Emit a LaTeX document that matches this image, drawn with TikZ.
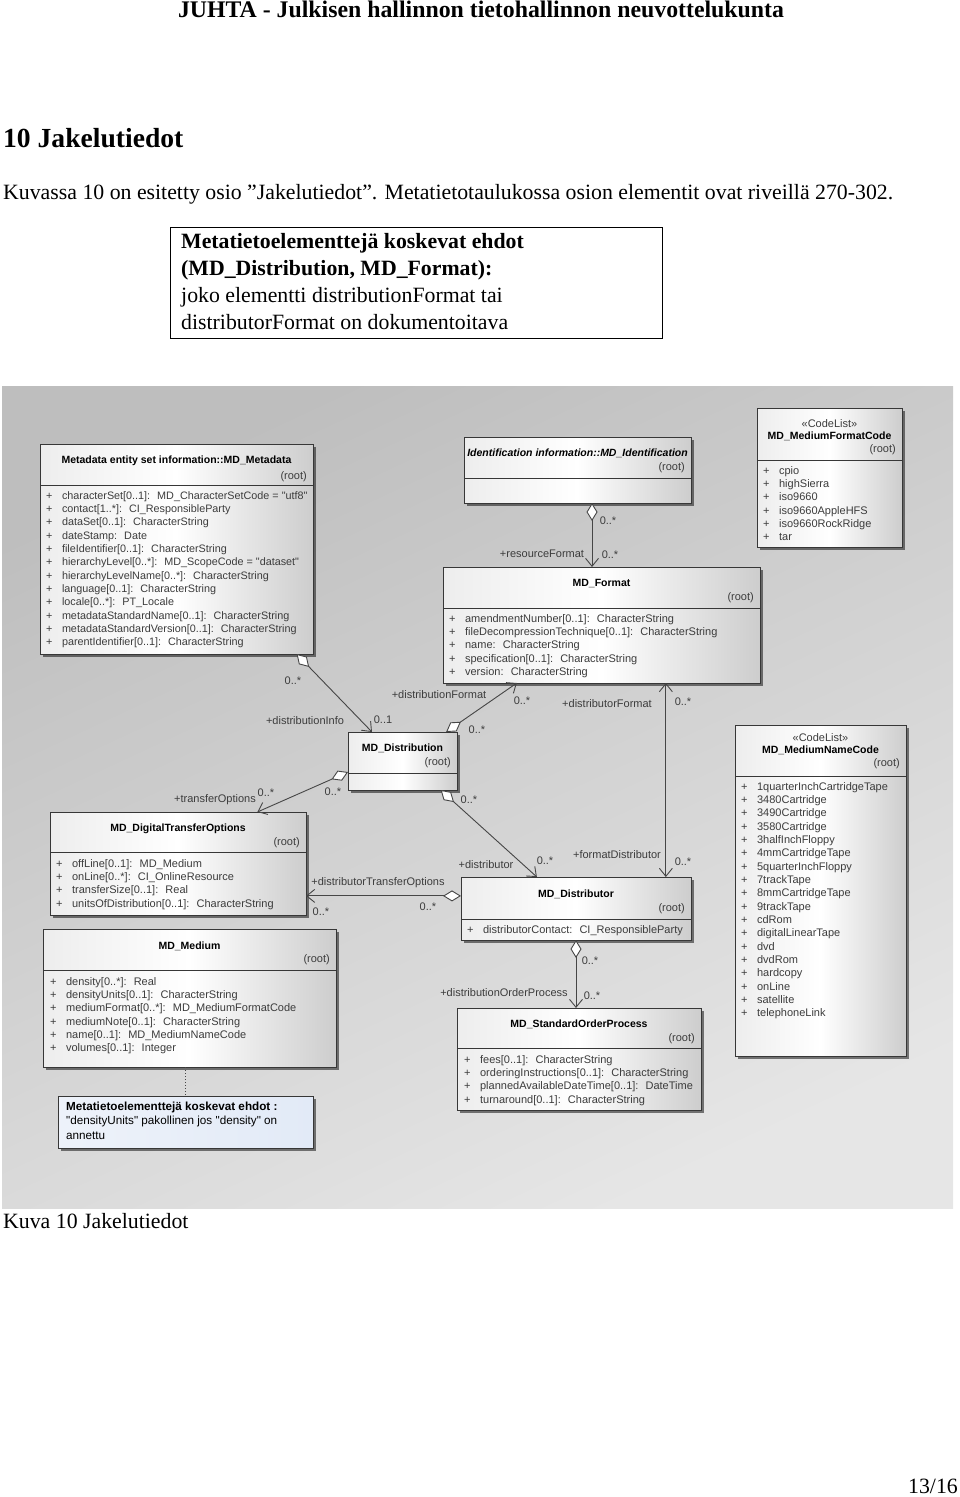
\documentclass[tikz,border=0pt]{standalone}
\usepackage{fontspec}
\setmainfont{Liberation Serif}
\newfontfamily\umlfont{Liberation Sans}
\usepackage{tikz}
\usetikzlibrary{positioning,arrows.meta,calc,shadows}
\usepackage{xcolor}
\definecolor{bgtop}{RGB}{190,190,190}
\definecolor{bgbot}{RGB}{230,230,230}
\definecolor{boxline}{RGB}{55,55,55}
\definecolor{boxgray}{RGB}{205,205,205}
\definecolor{attrgray}{RGB}{60,60,60}
\definecolor{linkgray}{RGB}{70,70,70}
\definecolor{notefill}{RGB}{226,234,247}
\newenvironment{attrlist}{\begin{tabular}[t]{@{}l@{\hspace{9.5pt}}l@{}}}{\end{tabular}}

\begin{document}
\begin{tikzpicture}[x=1pt, y=-1pt,
    doc/.style={inner sep=0pt, anchor=base west, font=\fontsize{21.8}{27.3}\selectfont},
    cls/.style={draw=boxline, line width=1pt, anchor=north west, inner sep=0pt, outer sep=0pt,
      left color=gray!14, right color=boxgray, middle color=white,
      drop shadow={shadow xshift=3pt, shadow yshift=-3pt, fill=black, opacity=0.5}},
    ctitle/.style={anchor=base, inner sep=0pt, font=\umlfont\bfseries\fontsize{10.5}{12}\selectfont},
    cstereo/.style={anchor=base, inner sep=0pt, font=\umlfont\fontsize{11}{13}\selectfont, text=attrgray},
    croot/.style={anchor=base east, inner sep=0pt, font=\umlfont\fontsize{11}{13}\selectfont, text=attrgray},
    cattr/.style={anchor=base west, inner sep=0pt, font=\umlfont\fontsize{11}{13.35}\selectfont, text=attrgray},
    sep/.style={draw=boxline, line width=1pt},
    lbl/.style={inner sep=0pt, font=\umlfont\fontsize{11}{13}\selectfont, text=attrgray},
    assoc/.style={draw=linkgray, line width=0.9pt, {Diamond[fill=white, length=18pt, width=11pt]}-{Straight Barb[length=8pt, width=13pt]}},
    nav/.style={draw=linkgray, line width=0.9pt, {Straight Barb[length=8pt, width=13pt]}-{Straight Barb[length=8pt, width=13pt]}}
  ]
  \useasboundingbox (0,0) rectangle (960,1497);

  % page text
  \node[anchor=base, inner sep=0pt, font=\bfseries\fontsize{23.8}{27}\selectfont] (hdr) at (481,17.5)
    {JUHTA - Julkisen hallinnon tietohallinnon neuvottelukunta};
  \node[doc, font=\bfseries\fontsize{27.6}{32}\selectfont] (sec) at (3,147) {10 Jakelutiedot};
  \node[doc] (intro) at (3,199)
    {Kuvassa 10 on esitetty osio ”Jakelutiedot”. Metatietotaulukossa osion elementit ovat riveillä 270-302.};
  \node[draw, line width=1pt, anchor=north west, minimum width=492, minimum height=111, inner sep=0pt] (cond) at (170,227) {};
  \node[doc] (condtxt) at ($(cond.north west)+(11,21)$) {\begin{tabular}[t]{@{}l@{}}
    \textbf{Metatietoelementtejä koskevat ehdot}\\
    \textbf{(MD\_Distribution, MD\_Format):}\\
    joko elementti distributionFormat tai\\
    distributorFormat on dokumentoitava
  \end{tabular}};

  % diagram background
  \shade[top color=bgtop, bottom color=bgbot, shading angle=25] (2,386) rectangle (953,1208);

  % classes
  \node[cls, minimum width=273, minimum height=210] (meta) at (40,444) {};
  \node[ctitle] (metaT) at ($(meta.north)+(0,19)$) {Metadata entity set information::MD\_Metadata};
  \node[croot] (metaR) at ($(meta.north east)+(-6,35)$) {(root)};
  \draw[sep] ($(meta.north west)+(0,41)$) -- ($(meta.north east)+(0,41)$);
  \node[cattr, font=\umlfont\fontsize{10.8}{13.35}\selectfont] (metaA) at ($(meta.north west)+(6,55)$) {\begin{attrlist}
    + & characterSet[0..1]:~ MD\_CharacterSetCode = "utf8"\\
    + & contact[1..*]:~ CI\_ResponsibleParty\\
    + & dataSet[0..1]:~ CharacterString\\
    + & dateStamp:~ Date\\
    + & fileIdentifier[0..1]:~ CharacterString\\
    + & hierarchyLevel[0..*]:~ MD\_ScopeCode = "dataset"\\
    + & hierarchyLevelName[0..*]:~ CharacterString\\
    + & language[0..1]:~ CharacterString\\
    + & locale[0..*]:~ PT\_Locale\\
    + & metadataStandardName[0..1]:~ CharacterString\\
    + & metadataStandardVersion[0..1]:~ CharacterString\\
    + & parentIdentifier[0..1]:~ CharacterString
  \end{attrlist}};

  \node[cls, minimum width=227, minimum height=66] (ident) at (464,437) {};
  \node[ctitle, font=\umlfont\bfseries\itshape\fontsize{10.5}{12}\selectfont] (identT) at ($(ident.north)+(0,19)$) {Identification information::MD\_Identification};
  \node[croot] (identR) at ($(ident.north east)+(-6,33)$) {(root)};
  \draw[sep] ($(ident.north west)+(0,41)$) -- ($(ident.north east)+(0,41)$);

  \node[cls, minimum width=145, minimum height=139] (mfc) at (757,408) {};
  \node[cstereo] (mfcS) at ($(mfc.north)+(0,19)$) {«CodeList»};
  \node[ctitle] (mfcT) at ($(mfc.north)+(0,31)$) {MD\_MediumFormatCode};
  \node[croot] (mfcR) at ($(mfc.north east)+(-6,44)$) {(root)};
  \draw[sep] ($(mfc.north west)+(0,52)$) -- ($(mfc.north east)+(0,52)$);
  \node[cattr] (mfcA) at ($(mfc.north west)+(6,66)$) {\begin{attrlist}
    + & cpio\\ + & highSierra\\ + & iso9660\\ + & iso9660AppleHFS\\ + & iso9660RockRidge\\ + & tar
  \end{attrlist}};

  \node[cls, minimum width=317, minimum height=116] (fmt) at (443,567) {};
  \node[ctitle] (fmtT) at ($(fmt.north)+(0,19)$) {MD\_Format};
  \node[croot] (fmtR) at ($(fmt.north east)+(-6,33)$) {(root)};
  \draw[sep] ($(fmt.north west)+(0,41)$) -- ($(fmt.north east)+(0,41)$);
  \node[cattr] (fmtA) at ($(fmt.north west)+(6,55)$) {\begin{attrlist}
    + & amendmentNumber[0..1]:~ CharacterString\\
    + & fileDecompressionTechnique[0..1]:~ CharacterString\\
    + & name:~ CharacterString\\
    + & specification[0..1]:~ CharacterString\\
    + & version:~ CharacterString
  \end{attrlist}};

  \node[cls, minimum width=109, minimum height=58] (dist) at (348,732) {};
  \node[ctitle] (distT) at ($(dist.north)+(0,19)$) {MD\_Distribution};
  \node[croot] (distR) at ($(dist.north east)+(-6,33)$) {(root)};
  \draw[sep] ($(dist.north west)+(0,41)$) -- ($(dist.north east)+(0,41)$);

  \node[cls, minimum width=171, minimum height=331] (mnc) at (735,725) {};
  \node[cstereo] (mncS) at ($(mnc.north)+(0,16)$) {«CodeList»};
  \node[ctitle] (mncT) at ($(mnc.north)+(0,28)$) {MD\_MediumNameCode};
  \node[croot] (mncR) at ($(mnc.north east)+(-6,41)$) {(root)};
  \draw[sep] ($(mnc.north west)+(0,51)$) -- ($(mnc.north east)+(0,51)$);
  \node[cattr] (mncA) at ($(mnc.north west)+(6,65)$) {\begin{attrlist}
    + & 1quarterInchCartridgeTape\\ + & 3480Cartridge\\ + & 3490Cartridge\\ + & 3580Cartridge\\
    + & 3halfInchFloppy\\ + & 4mmCartridgeTape\\ + & 5quarterInchFloppy\\ + & 7trackTape\\
    + & 8mmCartridgeTape\\ + & 9trackTape\\ + & cdRom\\ + & digitalLinearTape\\
    + & dvd\\ + & dvdRom\\ + & hardcopy\\ + & onLine\\ + & satellite\\ + & telephoneLink
  \end{attrlist}};

  \node[cls, minimum width=256, minimum height=103] (dto) at (50,812) {};
  \node[ctitle] (dtoT) at ($(dto.north)+(0,19)$) {MD\_DigitalTransferOptions};
  \node[croot] (dtoR) at ($(dto.north east)+(-6,33)$) {(root)};
  \draw[sep] ($(dto.north west)+(0,40)$) -- ($(dto.north east)+(0,40)$);
  \node[cattr] (dtoA) at ($(dto.north west)+(6,55)$) {\begin{attrlist}
    + & offLine[0..1]:~ MD\_Medium\\
    + & onLine[0..*]:~ CI\_OnlineResource\\
    + & transferSize[0..1]:~ Real\\
    + & unitsOfDistribution[0..1]:~ CharacterString
  \end{attrlist}};

  \node[cls, minimum width=230, minimum height=63] (dtor) at (461,877) {};
  \node[ctitle] (dtorT) at ($(dtor.north)+(0,20)$) {MD\_Distributor};
  \node[croot] (dtorR) at ($(dtor.north east)+(-6,34)$) {(root)};
  \draw[sep] ($(dtor.north west)+(0,42)$) -- ($(dtor.north east)+(0,42)$);
  \node[cattr] (dtorA) at ($(dtor.north west)+(6,56)$) {\begin{attrlist}
    + & distributorContact:~ CI\_ResponsibleParty
  \end{attrlist}};

  \node[cls, minimum width=293, minimum height=138] (medium) at (43,929) {};
  \node[ctitle] (mediumT) at ($(medium.north)+(0,20)$) {MD\_Medium};
  \node[croot] (mediumR) at ($(medium.north east)+(-6,33)$) {(root)};
  \draw[sep] ($(medium.north west)+(0,41)$) -- ($(medium.north east)+(0,41)$);
  \node[cattr] (mediumA) at ($(medium.north west)+(7,56)$) {\begin{attrlist}
    + & density[0..*]:~ Real\\
    + & densityUnits[0..1]:~ CharacterString\\
    + & mediumFormat[0..*]:~ MD\_MediumFormatCode\\
    + & mediumNote[0..1]:~ CharacterString\\
    + & name[0..1]:~ MD\_MediumNameCode\\
    + & volumes[0..1]:~ Integer
  \end{attrlist}};

  \node[cls, minimum width=244, minimum height=102] (sop) at (457,1008) {};
  \node[ctitle] (sopT) at ($(sop.north)+(0,19)$) {MD\_StandardOrderProcess};
  \node[croot] (sopR) at ($(sop.north east)+(-6,33)$) {(root)};
  \draw[sep] ($(sop.north west)+(0,40)$) -- ($(sop.north east)+(0,40)$);
  \node[cattr] (sopA) at ($(sop.north west)+(7,55)$) {\begin{attrlist}
    + & fees[0..1]:~ CharacterString\\
    + & orderingInstructions[0..1]:~ CharacterString\\
    + & plannedAvailableDateTime[0..1]:~ DateTime\\
    + & turnaround[0..1]:~ CharacterString
  \end{attrlist}};

  \node[cls, left color=notefill!60!white, right color=notefill, middle color=notefill!80!white,
    minimum width=255, minimum height=52] (note) at (58,1096) {};
  \node[cattr, text=black, font=\umlfont\fontsize{11.7}{14.5}\selectfont] (noteA) at ($(note.north west)+(8,14)$) {\begin{tabular}[t]{@{}l@{}}
    \textbf{Metatietoelementtejä koskevat ehdot :}\\
    "densityUnits" pakollinen jos "density" on\\
    annettu
  \end{tabular}};
  \draw[dotted, line width=1pt, linkgray] (medium.south -| note.north) -- (note.north);

  % associations
  \coordinate (fmtIn) at ($(ident.south west)!0.564!(ident.south east)$);
  \draw[assoc] (fmtIn) -- (fmtIn |- fmt.north);
  \node[lbl] (aM1) at (608,521) {0..*};
  \node[lbl] (aRole) at (542,554) {+resourceFormat};
  \node[lbl] (aM2) at (610,555) {0..*};

  \draw[assoc] ($(meta.south west)!0.94!(meta.south east)$) -- ($(dist.north west)!0.22!(dist.north east)$);
  \node[lbl] (bM1) at (293,681) {0..*};
  \node[lbl] (bRole) at (305,721) {+distributionInfo};
  \node[lbl] (bM2) at (383,720) {0..1};

  \draw[assoc] ($(dist.north west)!0.90!(dist.north east)$) -- ($(fmt.south west)!0.233!(fmt.south east)$);
  \node[lbl] (cRole) at (439,695) {+distributionFormat};
  \node[lbl] (cM2) at (522,701) {0..*};
  \node[lbl] (cM1) at (477,730) {0..*};

  \coordinate (dtorIn) at ($(fmt.south west)!0.703!(fmt.south east)$);
  \draw[nav] (dtorIn) -- (dtorIn |- dtor.north);
  \node[lbl] (dRole1) at (607,704) {+distributorFormat};
  \node[lbl] (dM1) at (683,702) {0..*};
  \node[lbl] (dRole2) at (617,855) {+formatDistributor};
  \node[lbl] (dM2) at (683,862) {0..*};

  \draw[assoc] ($(dist.north west)!0.69!(dist.south west)$) -- ($(dto.north west)!0.81!(dto.north east)$);
  \node[lbl] (eRole) at (215,800) {+transferOptions};
  \node[lbl] (eM2) at (266,793) {0..*};
  \node[lbl] (eM1) at (333,792) {0..*};

  \draw[assoc] ($(dist.south west)!0.85!(dist.south east)$) -- ($(dtor.north west)!0.33!(dtor.north east)$);
  \node[lbl] (fM1) at (469,800) {0..*};
  \node[lbl] (fRole) at (486,865) {+distributor};
  \node[lbl] (fM2) at (545,861) {0..*};

  \coordinate (dtoIn) at ($(dtor.north west)!0.30!(dtor.south west)$);
  \draw[assoc] (dtoIn) -- (dtoIn -| dto.east);
  \node[lbl] (gRole) at (378,883) {+distributorTransferOptions};
  \node[lbl] (gM2) at (321,912) {0..*};
  \node[lbl] (gM1) at (428,907) {0..*};

  \draw[assoc] (dtor.south) -- (dtor.south |- sop.north);
  \node[lbl] (hM1) at (590,961) {0..*};
  \node[lbl] (hRole) at (504,993) {+distributionOrderProcess};
  \node[lbl] (hM2) at (592,996) {0..*};

  % caption and page number
  \node[doc] (cap) at (3,1228) {Kuva 10 Jakelutiedot};
  \node[doc, anchor=base east] (pg) at (958,1493) {13/16};
\end{tikzpicture}
\end{document}
